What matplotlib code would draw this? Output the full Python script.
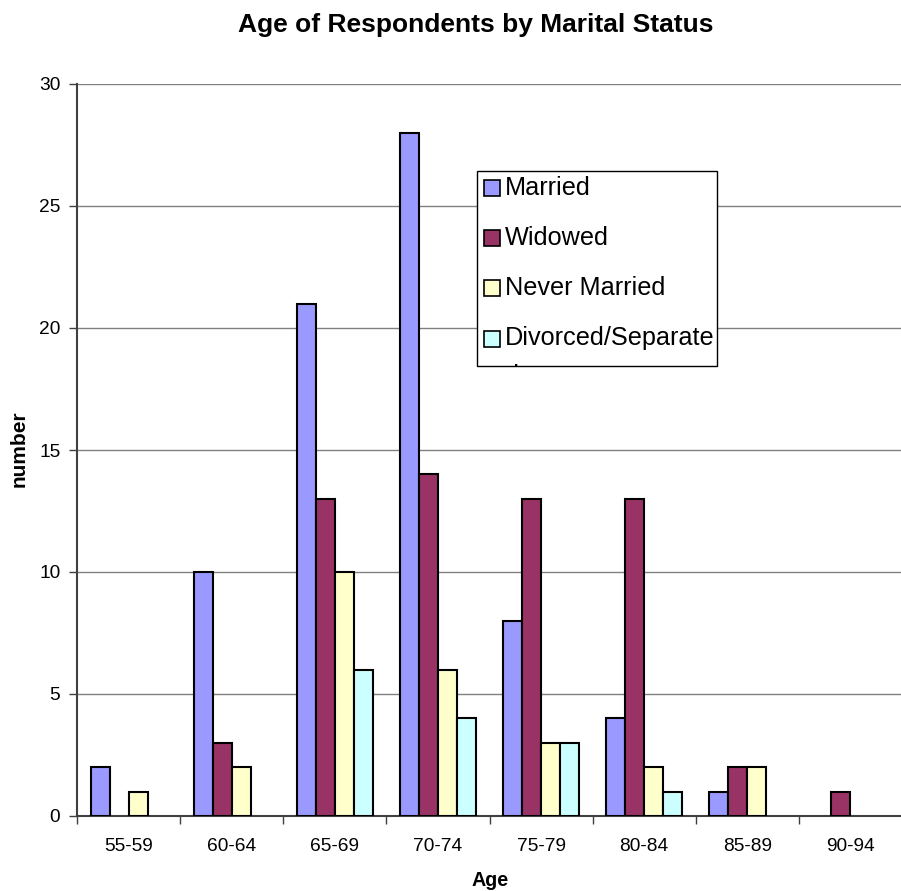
import matplotlib
matplotlib.use("Agg")
import matplotlib.pyplot as plt
import numpy as np
from matplotlib.patches import Rectangle

plt.rcParams['font.family'] = ['Liberation Sans', 'DejaVu Sans']

categories = ["55-59", "60-64", "65-69", "70-74", "75-79", "80-84", "85-89", "90-94"]
series_names = ["Married", "Widowed", "Never Married", "Divorced/Separated"]
married = [2, 10, 21, 28, 8, 4, 1, 0]
widowed = [0, 3, 13, 14, 13, 13, 2, 1]
never_married = [1, 2, 10, 6, 3, 2, 2, 0]
divorced = [0, 0, 6, 4, 3, 1, 0, 0]
colors = ["#9999FF", "#993366", "#FFFFCC", "#CCFFFF"]

W, H = 901, 891
fig = plt.figure(figsize=(W / 100, H / 100), dpi=100)

def fx(px):
    return px / W

def fy(py):
    return 1 - py / H

ax = fig.add_axes([fx(77), fy(816), fx(902) - fx(77), fy(84) - fy(816)])

series = [married, widowed, never_married, divorced]
x = np.arange(len(categories))
bw = 0.184
offsets = (np.arange(4) - 1.5) * bw
for vals, off, col in zip(series, offsets, colors):
    v = np.array(vals, dtype=float)
    mask = v > 0
    ax.bar(x[mask] + off, v[mask], width=bw, color=col, edgecolor="black",
           linewidth=1.5, zorder=3)

ax.set_xlim(-0.5, len(categories) - 0.5)
ax.set_ylim(0, 30)
ax.set_yticks(np.arange(0, 31, 5))
ax.yaxis.grid(True, color="#808080", linewidth=1.0, zorder=0)
ax.set_axisbelow(True)

ax.set_xticks(x)
ax.set_xticklabels(categories, fontsize=13.8)
ax.set_xticks(np.arange(-0.5, len(categories), 1), minor=True)
ax.tick_params(axis="x", which="major", length=0, pad=16)
ax.tick_params(axis="x", which="minor", length=6, width=1, color="#404040", direction="out")
ax.tick_params(axis="y", length=6, width=1, color="#404040", labelsize=13.8, pad=6)

for s in ["top", "right"]:
    ax.spines[s].set_visible(False)
for s in ["left", "bottom"]:
    ax.spines[s].set_color("#404040")
    ax.spines[s].set_linewidth(1.5)

fig.text(fx(476), fy(25), "Age of Respondents by Marital Status", fontsize=19,
         fontweight="bold", ha="center", va="center")
fig.text(fx(490), fy(880), "Age", fontsize=14.2, fontweight="bold", ha="center", va="center")
fig.text(fx(19), fy(449), "number", fontsize=15, fontweight="bold", ha="center",
         va="center", rotation=90)

# legend (manual, with clipped wrapped label as in original)
box = Rectangle((fx(477), fy(366)), fx(717) - fx(477), fy(171) - fy(366),
                transform=fig.transFigure, facecolor="white", edgecolor="black",
                linewidth=1.0, zorder=10)
fig.patches.append(box)
labels = ["Married", "Widowed", "Never Married", "Divorced/Separate\nd"]
row_y = [188, 238, 288, 339]
for lab, col, ry in zip(labels, colors, row_y):
    sq = Rectangle((fx(484), fy(ry + 8)), fx(16), fx(16) * W / H,
                   transform=fig.transFigure, facecolor=col, edgecolor="black",
                   linewidth=1.2, zorder=11)
    fig.patches.append(sq)
    t = fig.text(fx(505), fy(ry), lab, fontsize=18.2, ha="left",
                 va="center" if "\n" not in lab else "top", zorder=12,
                 linespacing=1.72)
    if "\n" in lab:
        t.set_position((fx(505), fy(ry - 13)))
    t.set_clip_path(box)

fig.savefig("out.png", dpi=100)
